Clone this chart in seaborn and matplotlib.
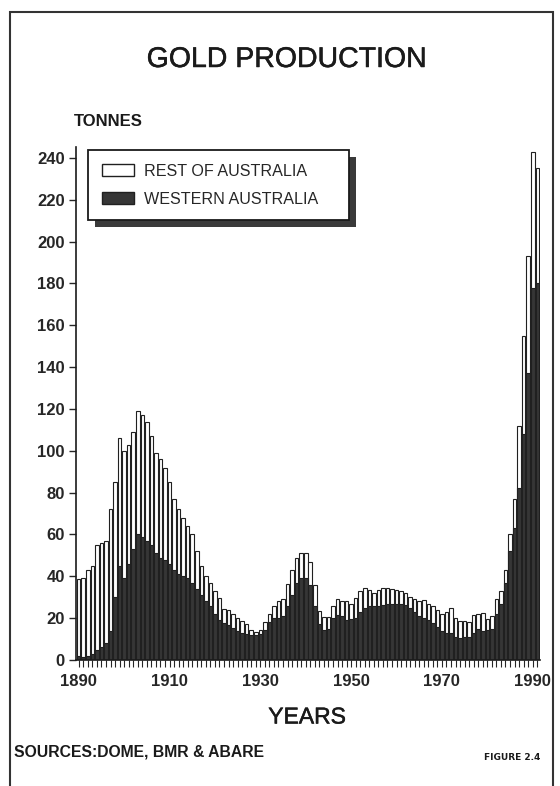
import numpy as np
import pandas as pd
import matplotlib
matplotlib.use('Agg')
import matplotlib.pyplot as plt
import matplotlib.patches as mpatches
import matplotlib.patheffects as pe
import seaborn as sns

# Gold production, tonnes per year
years = list(range(1890, 1992))
total_tonnes = [
    38.5, 39, 43, 45, 55, 56, 57, 72, 85, 106,          # 1890s
    100, 103, 109, 119, 117, 114, 107, 99, 96, 92,       # 1900s
    85, 77, 72, 68, 64, 60, 52, 45, 40, 37,              # 1910s
    33, 29.5, 24.5, 24, 22, 20, 18.5, 17, 14.5, 13.5,    # 1920s
    14.5, 18, 22, 26, 28, 29, 36.5, 43, 49, 51,          # 1930s
    51, 47, 36, 23.5, 20.5, 20.5, 26, 29, 28, 28,        # 1940s
    27, 29.5, 33, 34.5, 33.5, 32, 33.5, 34.5, 34.5, 34,  # 1950s
    33.5, 33, 32, 30, 29, 28, 28.5, 27, 26, 24,          # 1960s
    22, 23, 25, 20, 18.5, 18.5, 18, 21.5, 22, 22.5,      # 1970s
    19.5, 21, 29, 33, 43, 60, 77, 112, 155, 193,         # 1980s
    243, 235,                                            # 1990-91
]
wa_tonnes = [
    2, 1.5, 2, 3, 5, 6, 8, 14, 30, 45,
    39, 46, 53, 60, 59, 57, 55, 51, 49, 48,
    46, 43, 41, 40, 39, 37, 34, 31, 28, 26,
    22, 19, 17.5, 16.5, 15.5, 14, 13, 12.5, 12, 12,
    12.5, 14.5, 18, 20, 20, 21, 26, 31, 37, 39,
    39, 36, 26, 17, 14.5, 15, 20, 21.5, 21, 19,
    19.5, 20, 23, 25, 26, 26, 26, 26.5, 27, 27,
    27, 27, 26.5, 25, 23, 21, 20, 19, 17.5, 16,
    14, 13, 13, 11, 10.5, 11, 11, 13, 15, 14,
    14.5, 15, 22, 27, 37, 52, 63, 82, 108, 137,
    178, 180,
]
tick_years = [1890, 1910, 1930, 1950, 1970, 1990]
y_ticks = list(range(0, 241, 20))
legend_labels = ['REST OF AUSTRALIA', 'WESTERN AUSTRALIA']

sns.set_style('ticks')
plt.rcParams['font.family'] = ['Liberation Sans', 'DejaVu Sans']

df = pd.DataFrame({'year': years, 'total': total_tonnes, 'wa': wa_tonnes})

fig = plt.figure(figsize=(5.6, 7.86), dpi=100)
ax = fig.add_axes([76 / 560, 1 - 660 / 786, 464 / 560, (660 - 147.5) / 786])
ax.patch.set_alpha(0)

dark = '#363636'
# whole bar = all of Australia, dark part on top of it = WA
sns.barplot(data=df, x='year', y='total', color='white', edgecolor='#202020',
            linewidth=0.8, width=0.78, saturation=1, errorbar=None, ax=ax)
sns.barplot(data=df, x='year', y='wa', color=dark, edgecolor='#202020',
            linewidth=0.8, width=0.78, saturation=1, errorbar=None, ax=ax)

ax.set_xlim(-0.6, len(years) - 0.4)
ax.set_ylim(0, 245)
ax.set_xlabel('')
ax.set_ylabel('')

ax.set_xticks([years.index(y) for y in tick_years], [str(y) for y in tick_years])
ax.set_xticks(range(len(years)), minor=True)
ax.set_yticks(y_ticks, [str(v) for v in y_ticks])
ax.tick_params(axis='x', which='both', length=5, width=0.8, direction='out', pad=5)
ax.tick_params(axis='y', length=5, width=1.0, direction='out', pad=3)
for lab in ax.get_xticklabels() + ax.get_yticklabels():
    lab.set_fontsize(12)
    lab.set_fontweight('bold')
sns.despine(ax=ax)
for s in ['left', 'bottom']:
    ax.spines[s].set_linewidth(1.2)
    ax.spines[s].set_color('#1a1a1a')

thick = [pe.withStroke(linewidth=0.35, foreground='#1a1a1a')]

handles = [mpatches.Patch(facecolor='white', edgecolor='#202020', lw=1.0),
           mpatches.Patch(facecolor=dark, edgecolor='#202020', lw=1.0)]
leg = ax.legend(handles, [l + '    ' for l in legend_labels], loc='upper left',
                bbox_to_anchor=(88 / 560, 1 - 150 / 786), bbox_transform=fig.transFigure,
                frameon=True, fancybox=False, edgecolor='#1a1a1a', framealpha=1,
                fontsize=11.6, handlelength=2.0, handleheight=0.8, handletextpad=0.65,
                borderpad=0.85, labelspacing=0.8, borderaxespad=0)
leg.get_frame().set_linewidth(1.3)
leg.set_zorder(6)

# drop shadow behind the legend box
fig.canvas.draw()
bb = leg.get_window_extent()
inv = ax.transAxes.inverted()
(x0, y0) = inv.transform((bb.x0 + 7, bb.y0 - 7))
(x1, y1) = inv.transform((bb.x1 + 7, bb.y1 - 7))
ax.add_patch(mpatches.Rectangle((x0, y0), x1 - x0, y1 - y0, transform=ax.transAxes,
                                facecolor='#3a3a3a', edgecolor='none', zorder=5.5,
                                clip_on=False))

fig.text(287 / 560, 1 - 60 / 786, 'GOLD PRODUCTION', ha='center', va='center', fontsize=20.5,
         color='#1a1a1a', path_effects=thick)
fig.text(74 / 560, 1 - 121 / 786, 'TONNES', ha='left', va='center', fontsize=12,
         fontweight='bold', color='#1a1a1a')
fig.text(307 / 560, 1 - 717 / 786, 'YEARS', ha='center', va='center', fontsize=16.5,
         color='#1a1a1a', path_effects=thick)
fig.text(14 / 560, 1 - 752 / 786, 'SOURCES:DOME, BMR & ABARE', ha='left', va='center',
         fontsize=11.3, fontweight='bold', color='#1a1a1a')
fig.text(540 / 560, 1 - 757 / 786, 'FIGURE 2.4', ha='right', va='center', fontsize=6.5,
         fontweight='bold', family='DejaVu Sans', color='#1a1a1a')

# page frame of the scanned figure
fig.add_artist(mpatches.Rectangle((10 / 560, -0.02), 543 / 560, (786 - 12) / 786 + 0.02,
                                  transform=fig.transFigure, fill=False, lw=1.5,
                                  edgecolor='#333333'))

fig.savefig('out.png', dpi=100)
